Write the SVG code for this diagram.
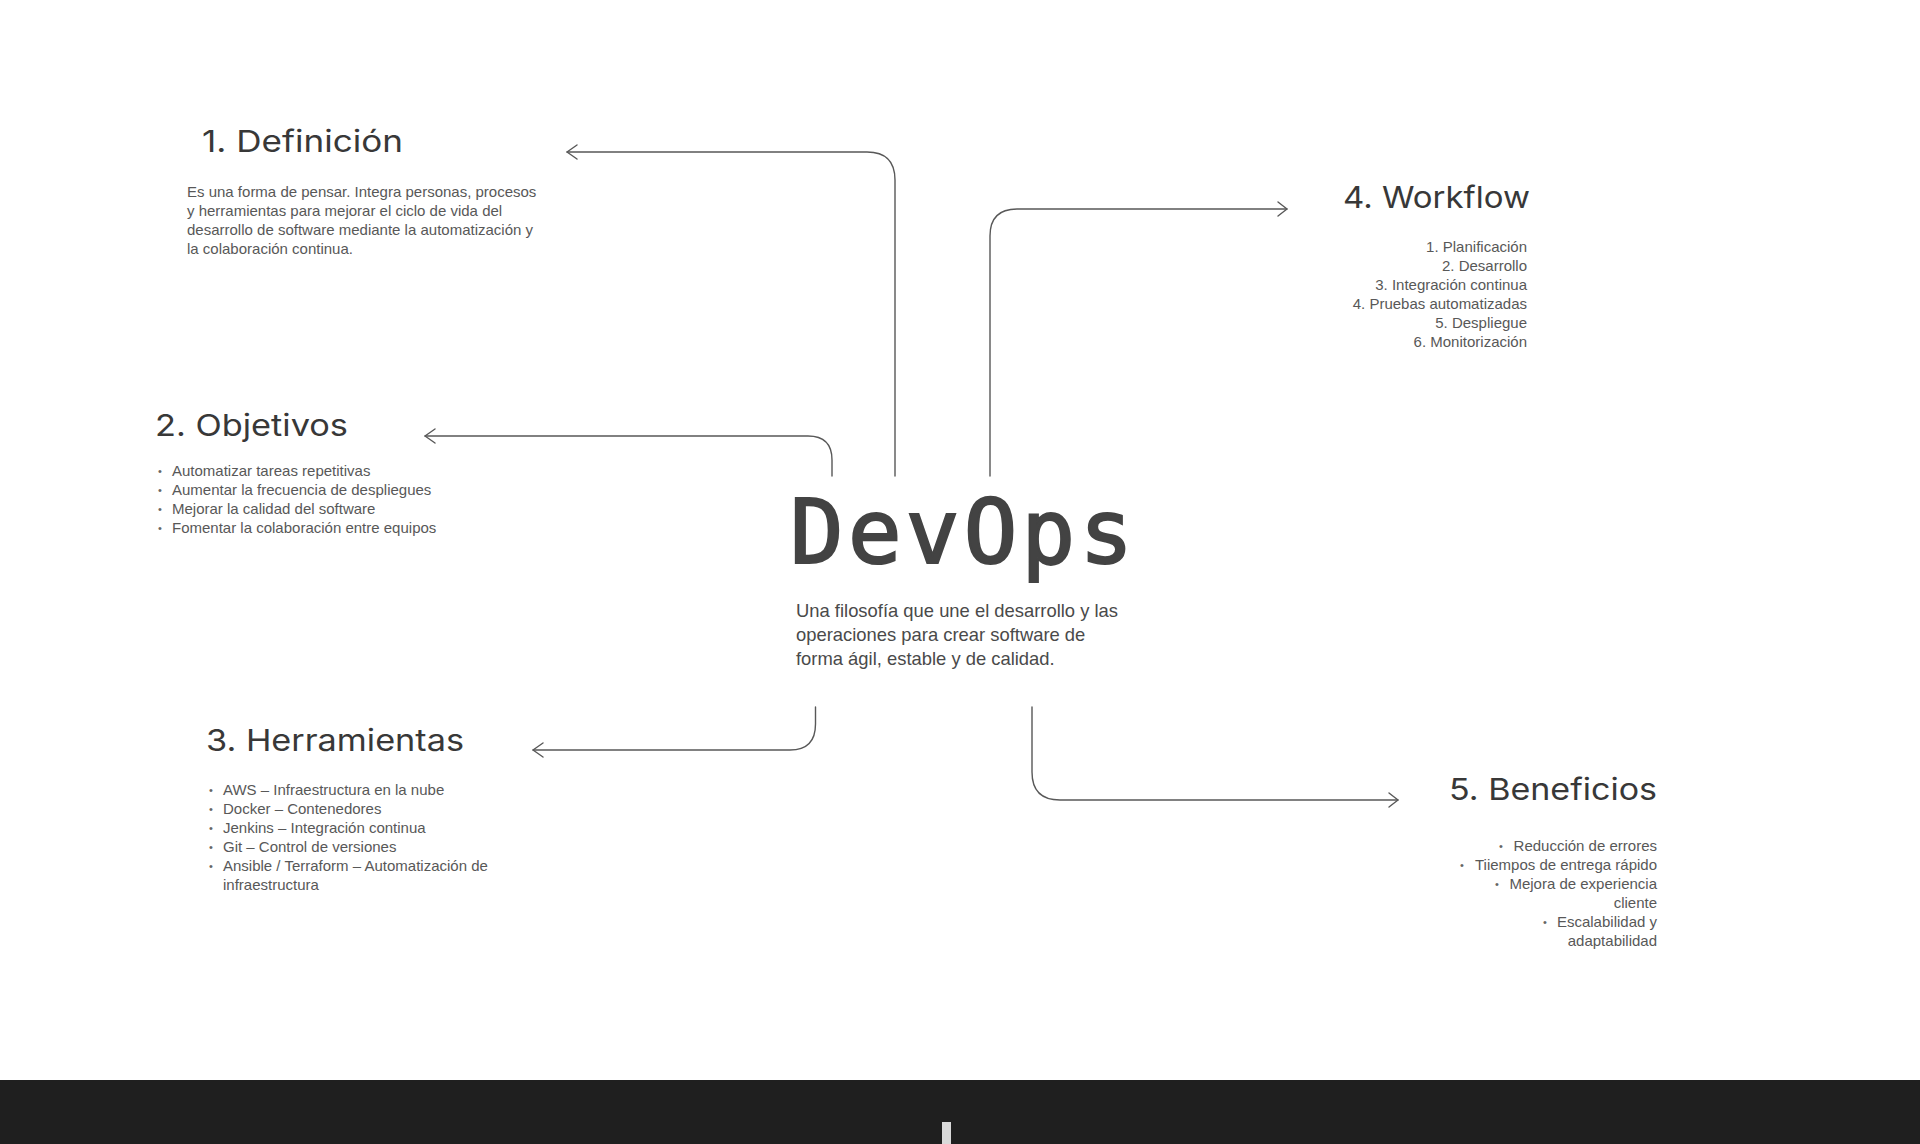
<svg xmlns="http://www.w3.org/2000/svg" width="1920" height="1144" viewBox="0 0 1920 1144">
<style>
.h{font-family:Inter,"Liberation Sans",sans-serif;font-size:30px;fill:#383838;}
.b{font-family:"Liberation Sans",Arial,sans-serif;font-size:15px;fill:#585858;}
.bl{font-family:"Liberation Sans",Arial,sans-serif;font-size:11px;fill:#666;}
.sub{font-family:"Liberation Sans",Arial,sans-serif;font-size:18.4px;fill:#4a4a4a;}
.title{font-family:"DejaVu Sans Mono",monospace;font-size:89px;fill:#434343;stroke:#434343;stroke-width:2.2;stroke-linejoin:miter;}
.c{fill:none;stroke:#585858;stroke-width:1.4;stroke-linecap:round;stroke-linejoin:round;}
</style>
<rect x="0" y="0" width="1920" height="1144" fill="#ffffff"/>
<g id="connectors">
<path class="c" d="M895 476 V180 Q895 152 867 152 H567"/>
<path class="c" d="M577 145 L567 152 L577 159"/>
<path class="c" d="M832 476 V460 Q832 436 808 436 H425"/>
<path class="c" d="M435 429 L425 436 L435 443"/>
<path class="c" d="M990 476 V236 Q990 209 1017 209 H1287"/>
<path class="c" d="M1278 202 L1287 209 L1278 216"/>
<path class="c" d="M815.5 707 V724 Q815.5 750 790 750 H533"/>
<path class="c" d="M543 743 L533 750 L543 757"/>
<path class="c" d="M1032 707 V772 Q1032 800 1060 800 H1398"/>
<path class="c" d="M1389 793 L1398 800 L1389 807"/>
</g>
<g id="devops">
<text class="title" x="790" y="563" textLength="343" lengthAdjust="spacing">DevOps</text>
<text class="sub" x="796" y="617">Una filosofía que une el desarrollo y las</text>
<text class="sub" x="796" y="641">operaciones para crear software de</text>
<text class="sub" x="796" y="665">forma ágil, estable y de calidad.</text>
</g>
<g id="definicion">
<text class="h" x="202" y="152" textLength="201" lengthAdjust="spacingAndGlyphs">1. Definición</text>
<text class="b" x="187" y="197">Es una forma de pensar. Integra personas, procesos</text>
<text class="b" x="187" y="216">y herramientas para mejorar el ciclo de vida del</text>
<text class="b" x="187" y="235">desarrollo de software mediante la automatización y</text>
<text class="b" x="187" y="254">la colaboración continua.</text>
</g>
<g id="objetivos">
<text class="h" x="155" y="436" textLength="193" lengthAdjust="spacingAndGlyphs">2. Objetivos</text>
<text class="bl" x="160" y="475" text-anchor="middle">•</text>
<text class="b" x="172" y="476">Automatizar tareas repetitivas</text>
<text class="bl" x="160" y="494" text-anchor="middle">•</text>
<text class="b" x="172" y="495">Aumentar la frecuencia de despliegues</text>
<text class="bl" x="160" y="513" text-anchor="middle">•</text>
<text class="b" x="172" y="514">Mejorar la calidad del software</text>
<text class="bl" x="160" y="532" text-anchor="middle">•</text>
<text class="b" x="172" y="533">Fomentar la colaboración entre equipos</text>
</g>
<g id="herramientas">
<text class="h" x="206" y="751" textLength="258" lengthAdjust="spacingAndGlyphs">3. Herramientas</text>
<text class="bl" x="211" y="794" text-anchor="middle">•</text>
<text class="b" x="223" y="795">AWS – Infraestructura en la nube</text>
<text class="bl" x="211" y="813" text-anchor="middle">•</text>
<text class="b" x="223" y="814">Docker – Contenedores</text>
<text class="bl" x="211" y="832" text-anchor="middle">•</text>
<text class="b" x="223" y="833">Jenkins – Integración continua</text>
<text class="bl" x="211" y="851" text-anchor="middle">•</text>
<text class="b" x="223" y="852">Git – Control de versiones</text>
<text class="bl" x="211" y="870" text-anchor="middle">•</text>
<text class="b" x="223" y="871">Ansible / Terraform – Automatización de</text>
<text class="b" x="223" y="890">infraestructura</text>
</g>
<g id="workflow">
<text class="h" x="1343" y="208" textLength="187" lengthAdjust="spacingAndGlyphs">4. Workflow</text>
<text class="b" x="1527" y="252" text-anchor="end">1. Planificación</text>
<text class="b" x="1527" y="271" text-anchor="end">2. Desarrollo</text>
<text class="b" x="1527" y="290" text-anchor="end">3. Integración continua</text>
<text class="b" x="1527" y="309" text-anchor="end">4. Pruebas automatizadas</text>
<text class="b" x="1527" y="328" text-anchor="end">5. Despliegue</text>
<text class="b" x="1527" y="347" text-anchor="end">6. Monitorización</text>
</g>
<g id="beneficios">
<text class="h" x="1449" y="800" textLength="208" lengthAdjust="spacingAndGlyphs">5. Beneficios</text>
<text class="bl" x="1501" y="850" text-anchor="middle">•</text>
<text class="b" x="1657" y="851" text-anchor="end">Reducción de errores</text>
<text class="bl" x="1462" y="869" text-anchor="middle">•</text>
<text class="b" x="1657" y="870" text-anchor="end">Tiiempos de entrega rápido</text>
<text class="bl" x="1497" y="888" text-anchor="middle">•</text>
<text class="b" x="1657" y="889" text-anchor="end">Mejora de experiencia</text>
<text class="b" x="1657" y="908" text-anchor="end">cliente</text>
<text class="bl" x="1545" y="926" text-anchor="middle">•</text>
<text class="b" x="1657" y="927" text-anchor="end">Escalabilidad y</text>
<text class="b" x="1657" y="946" text-anchor="end">adaptabilidad</text>
</g>
<g id="footer">
<rect x="0" y="1080" width="1920" height="64" fill="#1f1f1f"/>
<rect x="942" y="1122" width="9" height="22" fill="#d9d9d9"/>
</g>
</svg>
